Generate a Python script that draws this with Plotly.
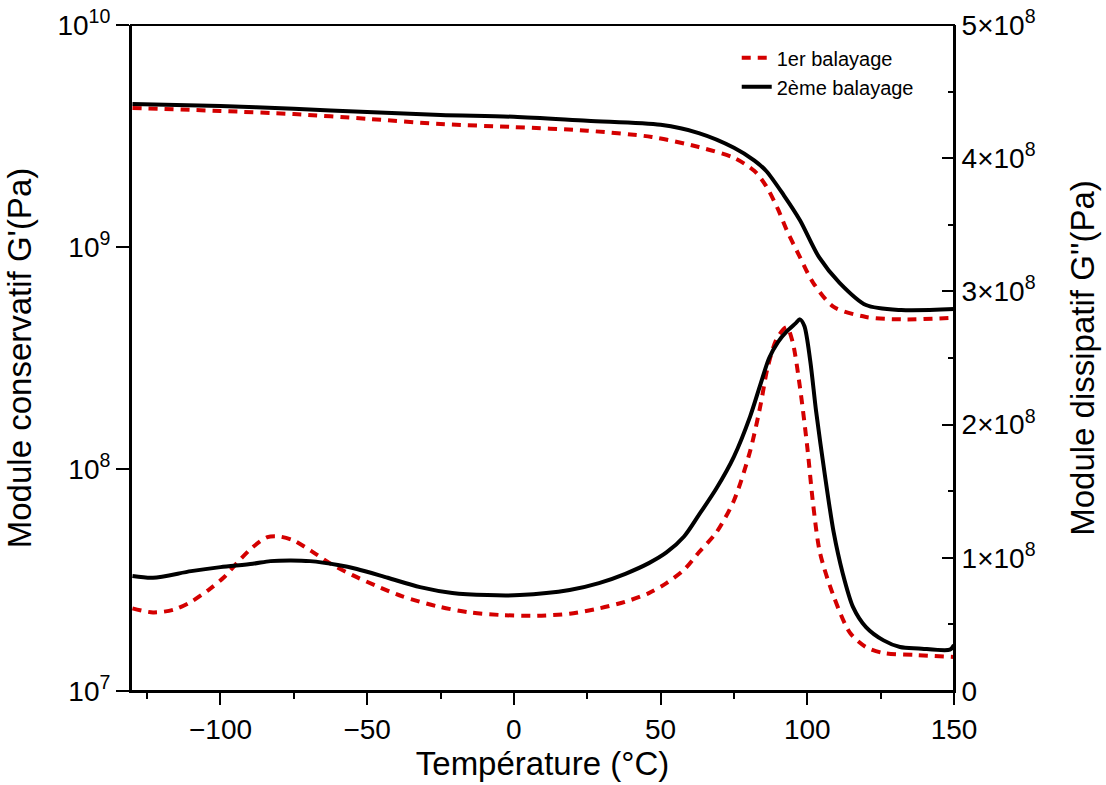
import plotly.graph_objects as go

# ---- G' (storage modulus, left log axis), Pa ----
T_gp_1 = [-130, -100, -75, -50, -25, 0, 25, 47, 63, 75, 82, 86, 90, 93, 97.5, 102, 109, 120, 132, 150]
Gp_1 = [4.23e9, 4.10e9, 3.97e9, 3.78e9, 3.58e9, 3.47e9, 3.34e9, 3.13e9, 2.82e9, 2.52e9,
        2.20e9, 1.88e9, 1.48e9, 1.19e9, 9.0e8, 6.9e8, 5.37e8, 4.84e8, 4.72e8, 4.80e8]

T_gp_2 = [-130, -100, -75, -50, -25, 0, 25, 50, 63, 75, 82, 86, 92, 97.5, 104, 111, 120, 132, 150]
Gp_2 = [4.41e9, 4.32e9, 4.19e9, 4.06e9, 3.93e9, 3.86e9, 3.70e9, 3.55e9, 3.26e9, 2.80e9,
        2.45e9, 2.20e9, 1.71e9, 1.32e9, 9.0e8, 6.9e8, 5.48e8, 5.2e8, 5.25e8]

# ---- G'' (loss modulus, right linear axis), Pa ----
T_gpp_1 = [-130, -123, -116, -110, -104, -99, -94, -89, -84, -80, -75, -69, -62, -55, -47,
           -38, -26, -15, -4, 8, 19, 29, 38, 46, 52, 58, 63, 69, 75, 80.5, 84, 86.5, 89.7,
           93, 95, 97.5, 100, 102, 104.3, 109, 114.6, 120, 126, 137, 150]
Gpp_1 = [0.62e8, 0.59e8, 0.61e8, 0.67e8, 0.76e8, 0.85e8, 0.97e8, 1.08e8, 1.155e8, 1.16e8,
         1.13e8, 1.05e8, 0.95e8, 0.87e8, 0.79e8, 0.71e8, 0.635e8, 0.59e8, 0.57e8, 0.565e8,
         0.58e8, 0.62e8, 0.67e8, 0.735e8, 0.81e8, 0.91e8, 1.04e8, 1.19e8, 1.43e8, 1.80e8,
         2.14e8, 2.43e8, 2.65e8, 2.73e8, 2.62e8, 2.28e8, 1.83e8, 1.40e8, 1.04e8, 0.71e8,
         0.435e8, 0.33e8, 0.285e8, 0.27e8, 0.255e8]

T_gpp_2 = [-130, -123, -110, -100, -89, -83, -76, -69.5, -60, -53.5, -43, -32, -21, -9, 2,
           19, 29, 38, 46, 52, 58, 63, 69, 75, 80.5, 84, 87, 90, 93, 96, 97.5, 99, 101,
           103, 106, 109, 112, 115.6, 120, 126, 131.6, 138, 148.6, 150]
Gpp_2 = [0.863e8, 0.85e8, 0.90e8, 0.93e8, 0.955e8, 0.975e8, 0.98e8, 0.975e8, 0.946e8, 0.916e8,
         0.85e8, 0.78e8, 0.736e8, 0.72e8, 0.72e8, 0.758e8, 0.81e8, 0.88e8, 0.96e8, 1.04e8,
         1.16e8, 1.32e8, 1.52e8, 1.76e8, 2.06e8, 2.30e8, 2.50e8, 2.62e8, 2.70e8, 2.76e8,
         2.79e8, 2.74e8, 2.48e8, 2.10e8, 1.62e8, 1.19e8, 0.89e8, 0.63e8, 0.48e8, 0.38e8,
         0.33e8, 0.32e8, 0.31e8, 0.345e8]

# ---- axis ticks ----
x_range = [-130.5, 150]
x_ticks = [-100, -50, 0, 50, 100, 150]
y_ticks = [1e7, 1e8, 1e9, 1e10]
y_ticktext = ["10<sup>7</sup>", "10<sup>8</sup>", "10<sup>9</sup>", "10<sup>10</sup>"]
y_minor = [m * 10 ** e for e in (7, 8, 9) for m in range(2, 10)]
y2_ticks = [0, 1e8, 2e8, 3e8, 4e8, 5e8]
y2_ticktext = ["0", "1×10<sup>8</sup>", "2×10<sup>8</sup>", "3×10<sup>8</sup>",
               "4×10<sup>8</sup>", "5×10<sup>8</sup>"]

RED = "#d40000"
FONT = "Arial, Liberation Sans, sans-serif"
TICKSIZE = 28

fig = go.Figure()
fig.add_trace(go.Scatter(x=T_gp_1, y=Gp_1, mode="lines", name="1er balayage",
                         line=dict(color=RED, width=4, dash="9px,7px", shape="spline",
                                   smoothing=0.8), yaxis="y"))
fig.add_trace(go.Scatter(x=T_gp_2, y=Gp_2, mode="lines", name="2ème balayage",
                         line=dict(color="black", width=4, shape="spline", smoothing=0.8),
                         yaxis="y"))
fig.add_trace(go.Scatter(x=T_gpp_1, y=Gpp_1, mode="lines", showlegend=False,
                         line=dict(color=RED, width=4, dash="9px,7px", shape="spline",
                                   smoothing=0.8), yaxis="y2"))
fig.add_trace(go.Scatter(x=T_gpp_2, y=Gpp_2, mode="lines", showlegend=False,
                         line=dict(color="black", width=4, shape="spline", smoothing=0.8),
                         yaxis="y2"))

# plot-area frame (gives the plain top border)
fig.add_shape(type="rect", xref="paper", yref="paper", x0=0, x1=1, y0=0, y1=1,
              line=dict(color="black", width=2), fillcolor="rgba(0,0,0,0)", layer="above")

fig.update_layout(
    width=1106, height=785,
    margin=dict(l=131, r=152, t=25, b=94, autoexpand=False),
    paper_bgcolor="white", plot_bgcolor="white",
    font=dict(family=FONT, color="black"),
    showlegend=True,
    legend=dict(x=0.736, y=0.98, xanchor="left", yanchor="top",
                bgcolor="rgba(0,0,0,0)", font=dict(size=20, family=FONT),
                tracegroupgap=0),
    xaxis=dict(range=x_range, tickvals=x_ticks, ticks="outside", ticklen=12,
               tickwidth=2, tickcolor="black", showline=True, linewidth=2,
               linecolor="black", mirror=False, showgrid=False, zeroline=False,
               tickfont=dict(size=TICKSIZE), automargin=False, ticklabeloverflow="allow",
               minor=dict(dtick=25, tick0=0, ticks="outside", ticklen=6, tickwidth=2,
                          tickcolor="black", showgrid=False),
               title=dict(text="Température (°C)", font=dict(size=33), standoff=6)),
    yaxis=dict(type="log", range=[7, 10], tickvals=y_ticks, ticktext=y_ticktext,
               ticks="outside", ticklen=13, tickwidth=2, tickcolor="black",
               showline=True, linewidth=2, linecolor="black", showgrid=False,
               zeroline=False, tickfont=dict(size=TICKSIZE), automargin=False,
               ticklabeloverflow="allow",
               title=dict(text="Module conservatif G'(Pa)", font=dict(size=33), standoff=16)),
    # minor ticks of the log axis (no labels)
    yaxis3=dict(type="log", range=[7, 10], overlaying="y", side="left", anchor="x",
                tickvals=y_minor, ticks="outside", ticklen=7, tickwidth=2,
                tickcolor="black", showticklabels=False, showgrid=False,
                zeroline=False, showline=False, automargin=False),
    yaxis2=dict(overlaying="y", side="right", range=[0, 5e8], tickvals=y2_ticks,
                ticktext=y2_ticktext, ticks="inside", ticklen=12, tickwidth=2,
                tickcolor="black", showline=True, linewidth=2, linecolor="black",
                showgrid=False, zeroline=False, tickfont=dict(size=TICKSIZE),
                automargin=False, ticklabeloverflow="allow",
                minor=dict(dtick=0.5e8, tick0=0, ticks="inside", ticklen=6, tickwidth=2,
                           tickcolor="black", showgrid=False),
                title=dict(text="Module dissipatif G''(Pa)", font=dict(size=33), standoff=36)),
)

fig.write_html("out.html", config={"displayModeBar": False},
               post_script="document.body.style.margin='0px';document.body.style.padding='0px';")
